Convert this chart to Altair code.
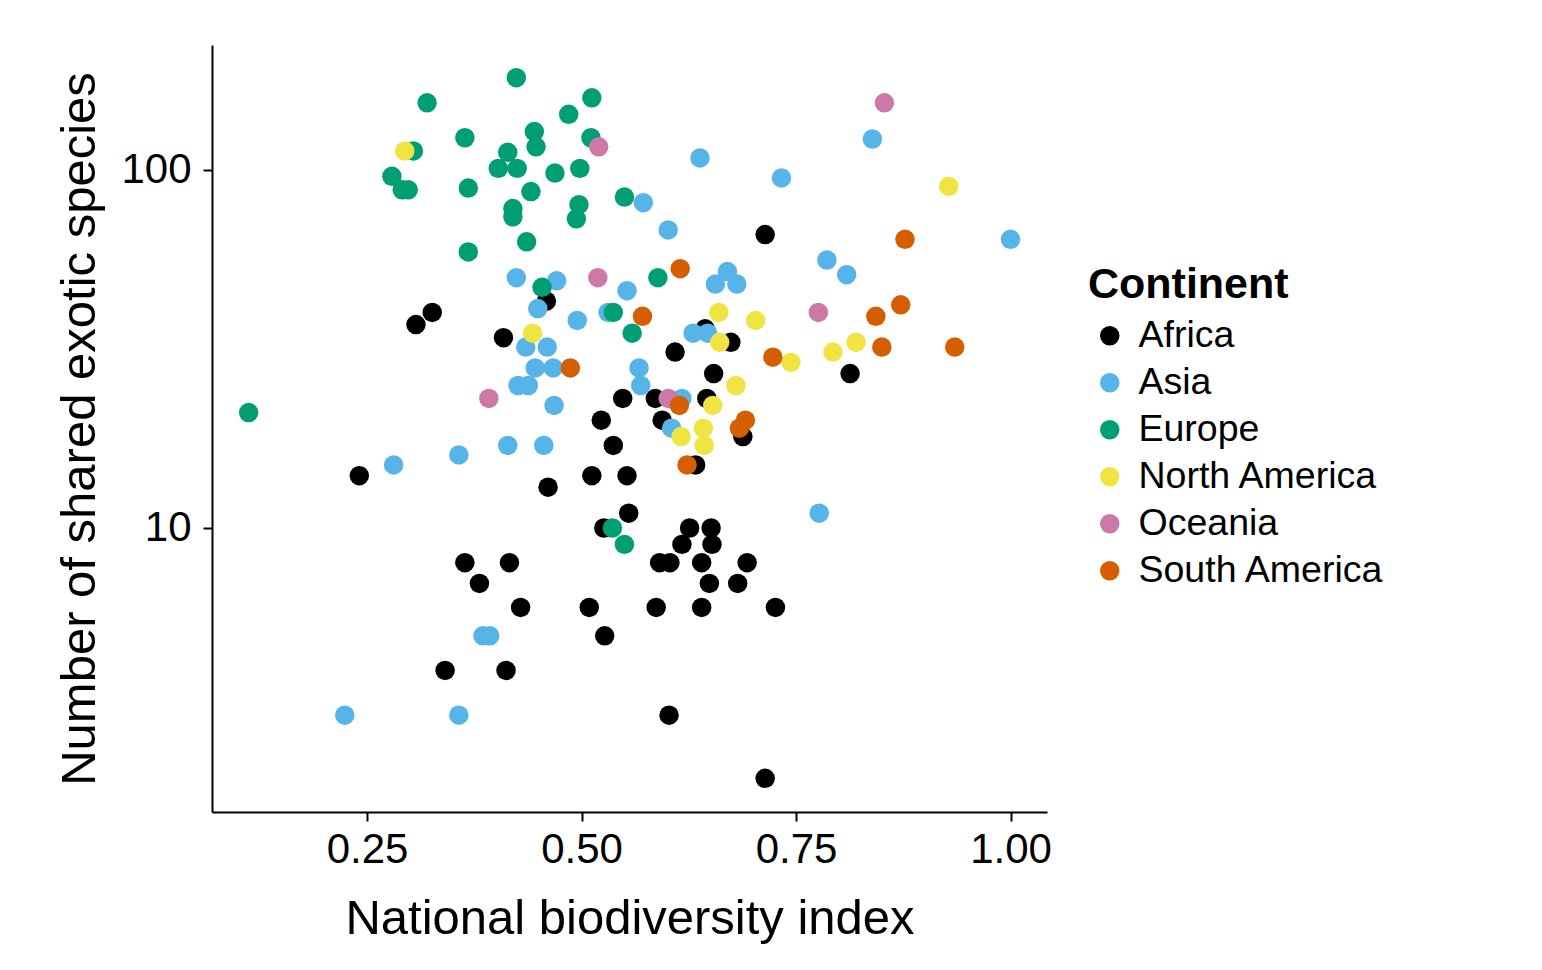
import altair as alt
import pandas as pd

continents = ["Africa", "Asia", "Europe", "North America", "Oceania", "South America"]
palette = ["#000000", "#56B4E9", "#009E73", "#F0E442", "#CC79A7", "#D55E00"]

africa_x = [0.714, 0.459, 0.326, 0.307, 0.409, 0.644, 0.674, 0.609, 0.654, 0.813,
            0.548, 0.586, 0.646, 0.523, 0.594, 0.537, 0.688, 0.241, 0.512, 0.553,
            0.633, 0.461, 0.555, 0.526, 0.626, 0.651, 0.617, 0.652,
            0.364, 0.416, 0.591, 0.603, 0.640, 0.693, 0.381, 0.649, 0.682,
            0.429, 0.509, 0.587, 0.640, 0.726, 0.527, 0.341, 0.412, 0.602, 0.714]
africa_y = [66, 43, 40, 37, 34, 36, 33, 31, 27, 27,
            23, 23, 23, 20, 20, 17, 18, 14, 14, 14,
            15, 13, 11, 10, 10, 10, 9, 9,
            8, 8, 8, 8, 8, 8, 7, 7, 7,
            6, 6, 6, 6, 6, 5, 4, 4, 3, 2]

asia_x = [0.638, 0.572, 0.601, 0.733, 0.839, 1.0, 0.786, 0.809, 0.670, 0.656,
          0.681, 0.424, 0.471, 0.553, 0.449, 0.495, 0.531, 0.435, 0.460, 0.630,
          0.647, 0.446, 0.467, 0.567, 0.569, 0.426, 0.438, 0.468, 0.617, 0.605,
          0.414, 0.456, 0.357, 0.281, 0.777, 0.385, 0.393, 0.224, 0.357]
asia_y = [108, 81, 68, 95, 122, 64, 56, 51, 52, 48,
          48, 50, 49, 46, 41, 38, 40, 32, 32, 35,
          35, 28, 28, 28, 25, 25, 25, 22, 23, 19,
          17, 17, 16, 15, 11, 5, 5, 3, 3]

europe_x = [0.112, 0.320, 0.424, 0.512, 0.364, 0.445, 0.485, 0.511, 0.304, 0.279,
            0.291, 0.298, 0.368, 0.414, 0.447, 0.403, 0.425, 0.469, 0.498, 0.441,
            0.420, 0.420, 0.497, 0.494, 0.550, 0.436, 0.368, 0.589, 0.454, 0.537,
            0.559, 0.536, 0.550]
europe_y = [21, 154, 181, 159, 123, 128, 143, 123, 113, 96,
            88, 88, 89, 112, 116, 101, 101, 98, 101, 87,
            78, 74, 80, 73, 84, 63, 59, 50, 47, 40,
            35, 10, 9]

north_america_x = [0.294, 0.928, 0.660, 0.703, 0.443, 0.661, 0.680, 0.653, 0.616, 0.642,
                   0.643, 0.820, 0.793, 0.744]
north_america_y = [113, 90, 40, 38, 35, 33, 25, 22, 18, 19, 17, 33, 31, 29]

oceania_x = [0.853, 0.520, 0.519, 0.776, 0.392, 0.601]
oceania_y = [154, 116, 50, 40, 23, 23]

south_america_x = [0.615, 0.877, 0.571, 0.487, 0.872, 0.843, 0.850, 0.935, 0.723, 0.614,
                   0.691, 0.684, 0.623]
south_america_y = [53, 64, 39, 28, 42, 39, 32, 32, 30, 22, 20, 19, 15]

x_ticks = [0.25, 0.50, 0.75, 1.00]
y_ticks = [10, 100]

groups = [
    ("Africa", africa_x, africa_y),
    ("Asia", asia_x, asia_y),
    ("Europe", europe_x, europe_y),
    ("North America", north_america_x, north_america_y),
    ("Oceania", oceania_x, oceania_y),
    ("South America", south_america_x, south_america_y),
]
rows = []
for name, xs, ys in groups:
    for xv, yv in zip(xs, ys):
        rows.append({"Continent": name, "index": xv, "species": yv})
df = pd.DataFrame(rows)

FONT = "Liberation Sans"

chart = alt.Chart(df).mark_circle(size=380, opacity=1).encode(
    x=alt.X("index:Q", title="National biodiversity index",
            scale=alt.Scale(domain=[0.0693, 1.0425], nice=False, zero=False),
            axis=alt.Axis(values=x_ticks, format=".2f", labelPadding=8, titlePadding=24)),
    y=alt.Y("species:Q", title="Number of shared exotic species",
            scale=alt.Scale(type="log", domain=[1.61, 223.3], nice=False),
            axis=alt.Axis(values=y_ticks, format="d", labelPadding=12, titlePadding=16)),
    color=alt.Color("Continent:N",
                    scale=alt.Scale(domain=continents, range=palette),
                    legend=alt.Legend(title="Continent", orient="none",
                                      legendX=876, legendY=219,
                                      titleFontSize=43, titleFontWeight="bold",
                                      titleFont=FONT, titleColor="black", titleLimit=600,
                                      labelFont=FONT, labelFontSize=37.5, labelColor="black",
                                      labelLimit=600,
                                      symbolType="circle", symbolSize=380,
                                      symbolStrokeWidth=0, symbolOffset=3,
                                      labelOffset=10, rowPadding=8, titlePadding=10,
                                      padding=0)),
).properties(
    width=835, height=767,
    padding={"left": 204, "top": 37, "right": 480, "bottom": 140},
    autosize=alt.AutoSizeParams(type="none"),
    background="white",
).configure_view(stroke=None).configure_axis(
    grid=False,
    domainColor="black", domainWidth=2,
    tickColor="black", tickWidth=2, tickSize=9,
    labelFont=FONT, labelFontSize=42, labelColor="black",
    titleFont=FONT, titleFontSize=49, titleFontWeight="normal", titleColor="black",
)

chart.save("out.html", embed_options={"renderer": "svg", "actions": False})
